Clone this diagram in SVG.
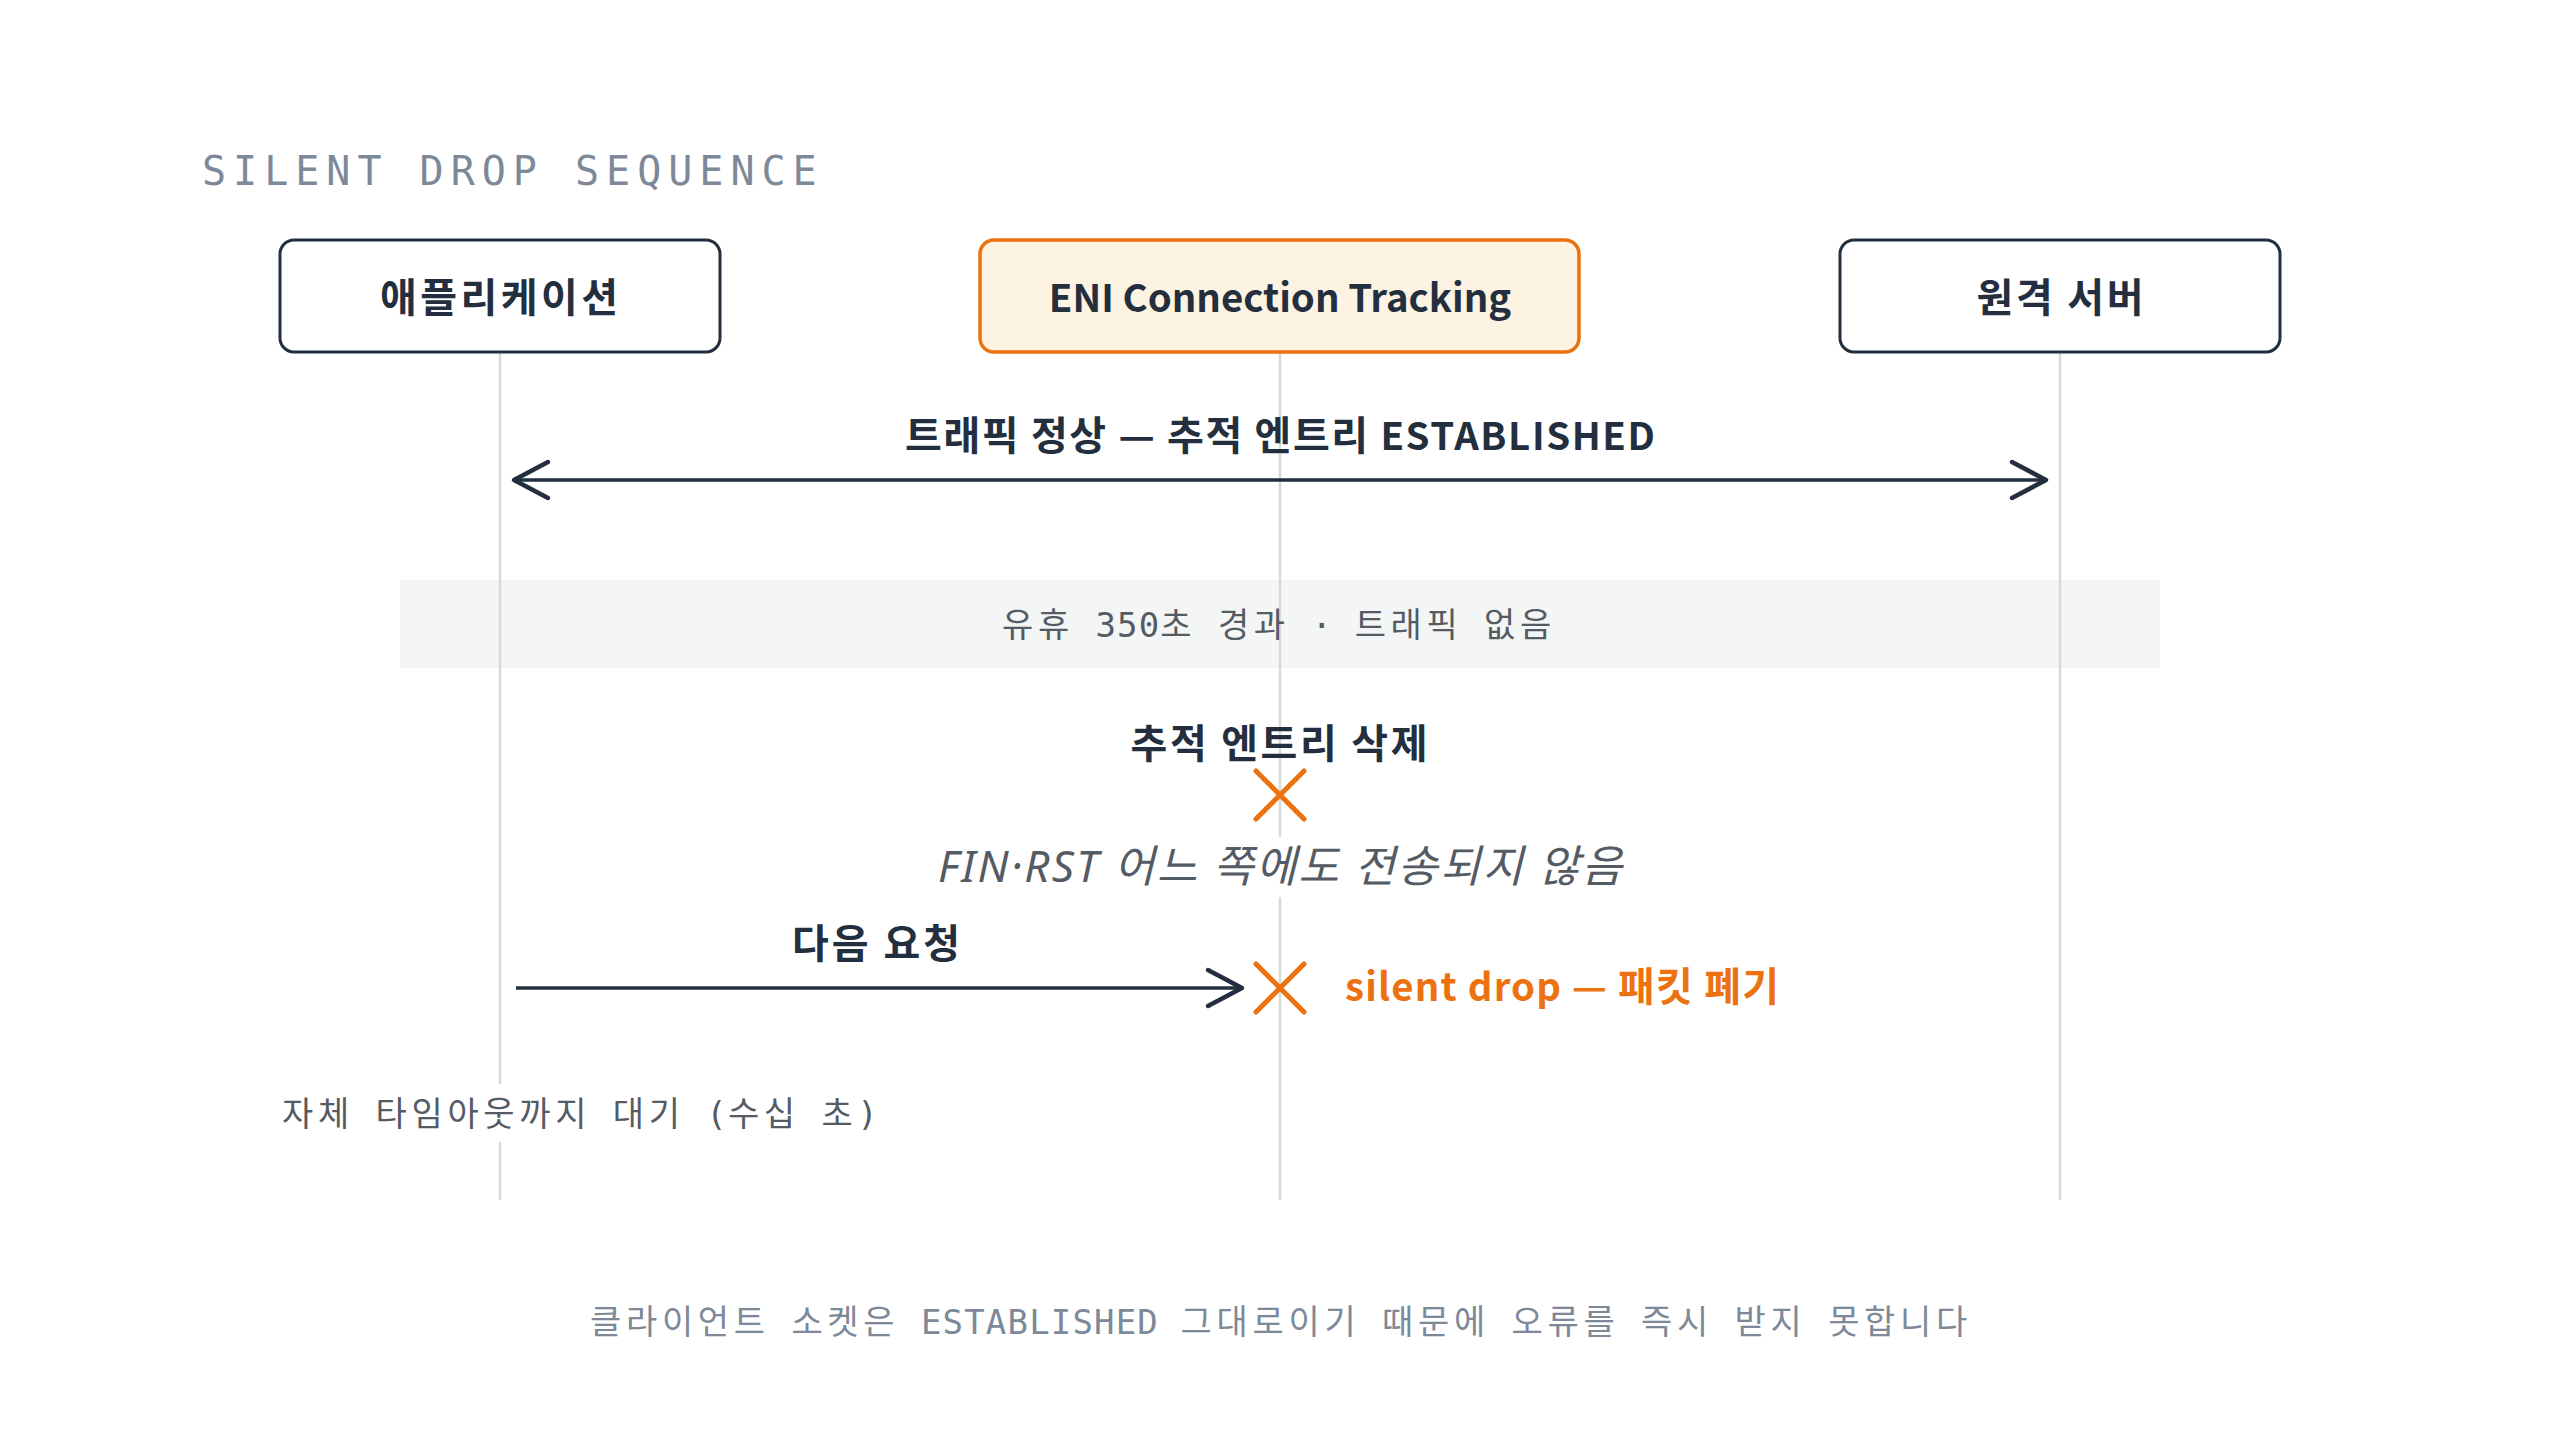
<svg xmlns="http://www.w3.org/2000/svg" width="2560" height="1440" viewBox="0 0 2560 1440">
<defs>
<style>
.bg{fill:#ffffff}
.node{fill:#ffffff;stroke:#232f3e;stroke-width:3}
.node-hl{fill:#fdf3e2;stroke:#ec7211;stroke-width:3.5}
.lbl{font-family:"Noto Sans CJK KR","Noto Sans",sans-serif;font-weight:700;font-size:40px;fill:#232f3e;text-anchor:middle}
.lat{font-size:38.4px}
.mono{font-family:"DejaVu Sans Mono","Noto Sans CJK KR",monospace;font-size:34px;letter-spacing:1.2px}
.kh{letter-spacing:4.7px}
.title{font-family:"DejaVu Sans Mono","Noto Sans CJK KR",monospace;font-size:40px;letter-spacing:7px;fill:#7d8998}
.life{stroke:#d5dbdb;stroke-width:2.5;fill:none}
.msg{stroke:#232f3e;stroke-width:3.5;fill:none}
.head{stroke:#232f3e;stroke-width:4.5;fill:none;stroke-linecap:round;stroke-linejoin:round}
.xmark{stroke:#ec7211;stroke-width:5;stroke-linecap:round;fill:none}
.note{font-family:"Noto Sans","Noto Sans CJK KR",sans-serif;font-style:italic;font-size:44px;fill:#545b64;text-anchor:middle}
</style>
<marker id="ah" markerUnits="userSpaceOnUse" viewBox="-40 -22 46 44" markerWidth="46" markerHeight="44" refX="0" refY="0" orient="auto-start-reverse">
<path d="M-34,-18 L0,0 L-34,18" class="head"/>
</marker>
</defs>
<rect class="bg" x="0" y="0" width="2560" height="1440"/>
<text class="title" x="202" y="185">SILENT DROP SEQUENCE</text>

<rect x="400" y="580" width="1760" height="88" fill="#f4f6f6"/>

<g id="lifelines">
<line class="life" x1="500" y1="352" x2="500" y2="1200"/>
<line class="life" x1="1280" y1="352" x2="1280" y2="1200"/>
<line class="life" x1="2060" y1="352" x2="2060" y2="1200"/>
</g>

<text class="mono" x="1279" y="637" text-anchor="middle" fill="#545b64" textLength="554" lengthAdjust="spacing"><tspan class="kh">유휴</tspan> 350<tspan class="kh">초</tspan> <tspan class="kh">경과</tspan> · <tspan class="kh">트래픽</tspan> <tspan class="kh">없음</tspan></text>

<g id="node-app">
<rect class="node" x="280" y="240" width="440" height="112" rx="14"/>
<text class="lbl" x="499" y="312" textLength="238" lengthAdjust="spacing">애플리케이션</text>
</g>
<g id="node-eni">
<rect class="node-hl" x="980" y="240" width="599" height="112" rx="14"/>
<text class="lbl" x="1280" y="312" style="font-size:38.4px">ENI Connection Tracking</text>
</g>
<g id="node-server">
<rect class="node" x="1840" y="240" width="440" height="112" rx="14"/>
<text class="lbl" x="2060" y="312" textLength="167" lengthAdjust="spacing">원격 서버</text>
</g>

<g id="connectors">
<line class="msg" x1="514" y1="480" x2="2046" y2="480" marker-start="url(#ah)" marker-end="url(#ah)"/>
<text class="lbl" x="1280" y="450" textLength="750" lengthAdjust="spacing">트래픽 정상 — 추적 엔트리 <tspan class="lat">ESTABLISHED</tspan></text>
<line class="msg" x1="516" y1="988" x2="1242" y2="988" marker-end="url(#ah)"/>
<text class="lbl" x="876" y="958" textLength="168" lengthAdjust="spacing">다음 요청</text>
</g>

<g id="event-delete">
<text class="lbl" x="1279" y="758" textLength="297" lengthAdjust="spacing">추적 엔트리 삭제</text>
<path class="xmark" d="M1256,771 L1304,819 M1304,771 L1256,819"/>
<rect x="930" y="837" width="700" height="60" fill="#ffffff"/>
<text class="note" x="1280" y="882" textLength="684" lengthAdjust="spacing">FIN·RST 어느 쪽에도 전송되지 않음</text>
</g>

<g id="event-drop">
<path class="xmark" d="M1256,964 L1304,1012 M1304,964 L1256,1012"/>
<text x="1345" y="1001" font-family="'Noto Sans CJK KR','Noto Sans',sans-serif" font-weight="700" font-size="40" fill="#ec7211" textLength="434" lengthAdjust="spacing"><tspan class="lat">silent drop — </tspan>패킷 폐기</text>
</g>

<g id="timeout-note">
<rect x="280" y="1084" width="600" height="58" fill="#ffffff"/>
<text class="mono" x="282" y="1126" fill="#545b64" textLength="597" lengthAdjust="spacing"><tspan class="kh">자체</tspan> <tspan class="kh">타임아웃까지</tspan> <tspan class="kh">대기</tspan> (<tspan class="kh">수십</tspan> <tspan class="kh">초</tspan>)</text>
</g>

<text class="mono" x="1281" y="1334" text-anchor="middle" fill="#7d8998" textLength="1382" lengthAdjust="spacing"><tspan class="kh">클라이언트</tspan> <tspan class="kh">소켓은</tspan> ESTABLISHED <tspan class="kh">그대로이기</tspan> <tspan class="kh">때문에</tspan> <tspan class="kh">오류를</tspan> <tspan class="kh">즉시</tspan> <tspan class="kh">받지</tspan> <tspan class="kh">못합니다</tspan></text>
</svg>
